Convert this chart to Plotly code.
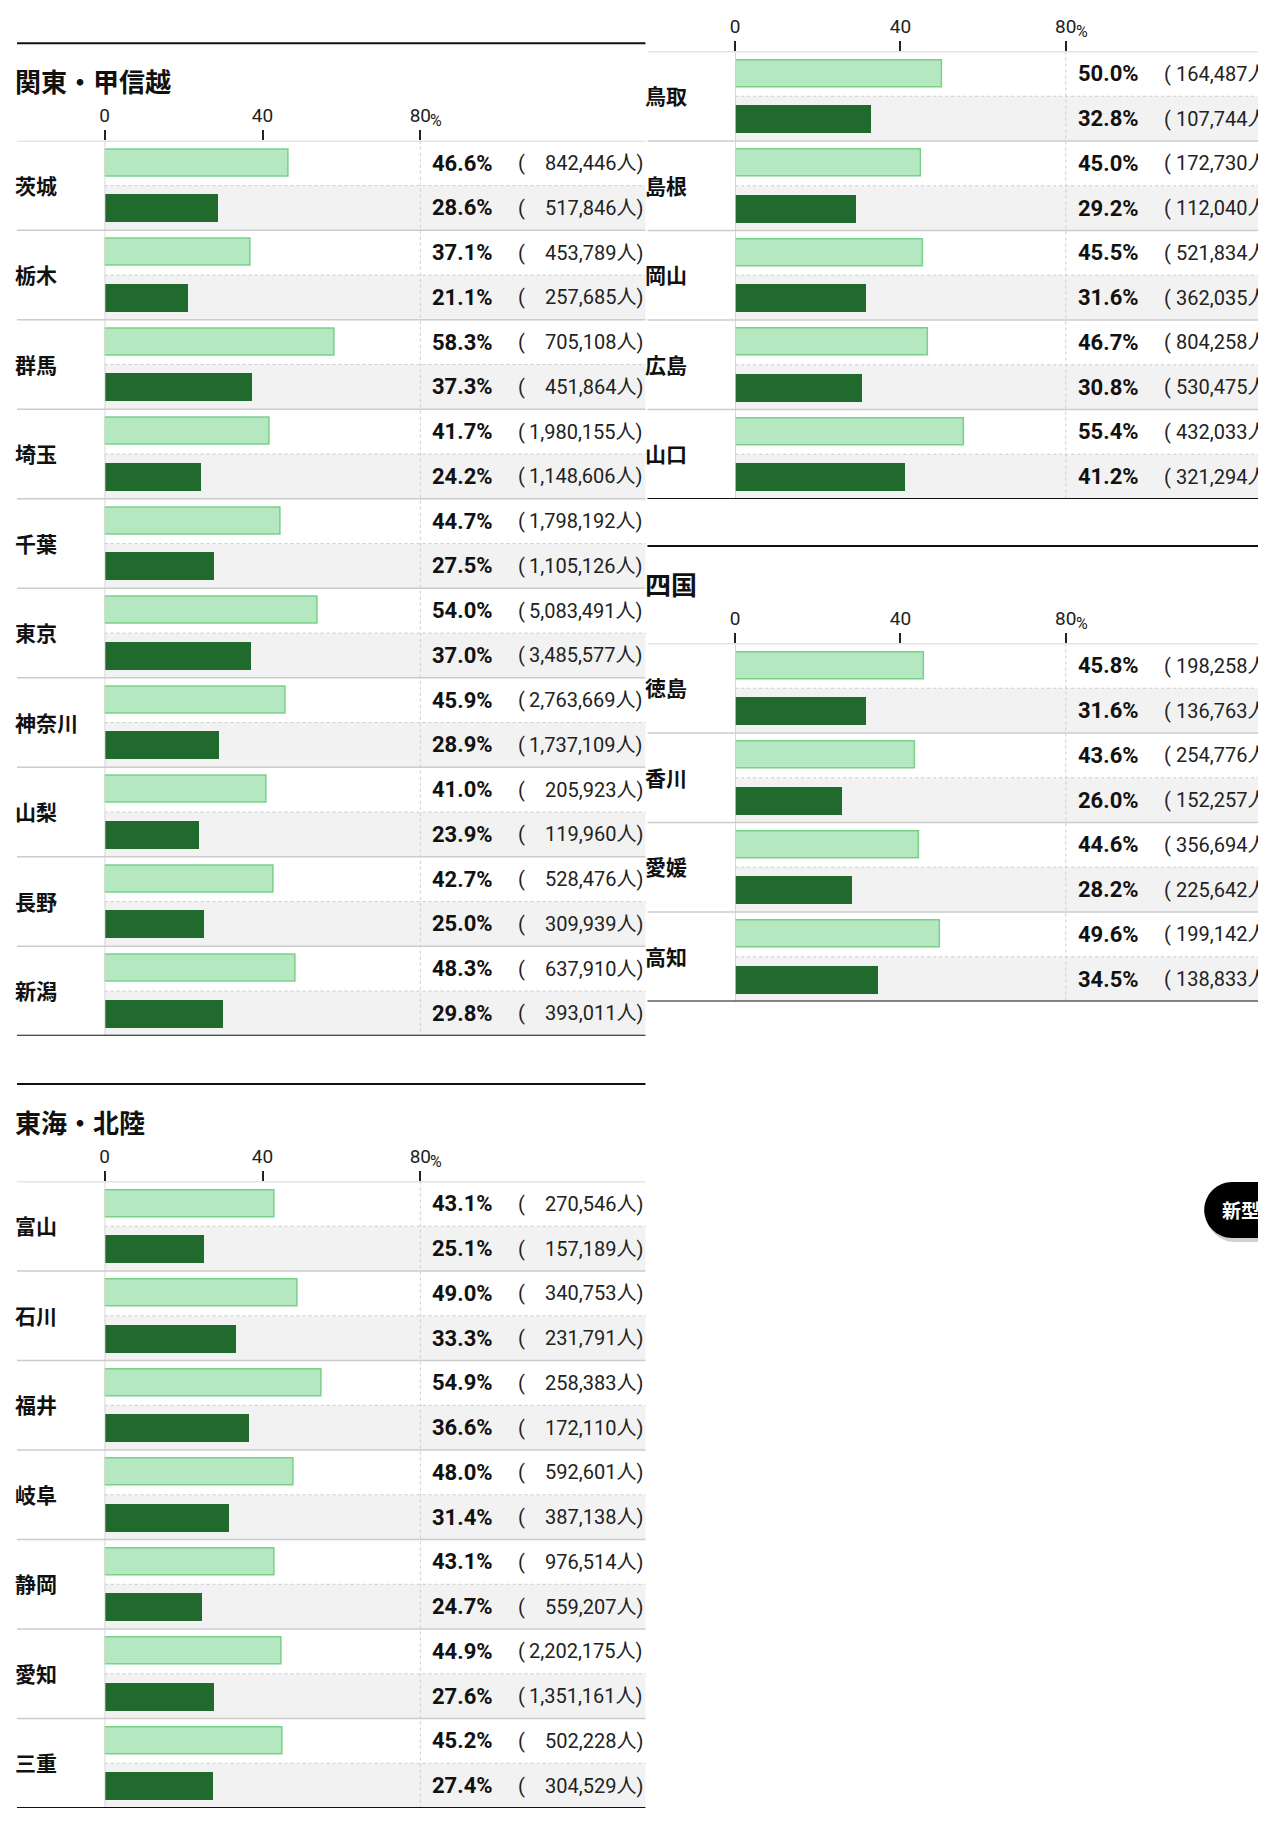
import plotly.graph_objects as go

# ---- data: vaccination rate (%) and people, 1st dose (light) / 2nd dose (dark)

KANTO_PREFS = ["茨城", "栃木", "群馬", "埼玉", "千葉", "東京", "神奈川", "山梨", "長野", "新潟"]
KANTO_RATE_1 = [46.6, 37.1, 58.3, 41.7, 44.7, 54.0, 45.9, 41.0, 42.7, 48.3]
KANTO_RATE_2 = [28.6, 21.1, 37.3, 24.2, 27.5, 37.0, 28.9, 23.9, 25.0, 29.8]
KANTO_NUM_1 = [842446, 453789, 705108, 1980155, 1798192, 5083491, 2763669, 205923, 528476, 637910]
KANTO_NUM_2 = [517846, 257685, 451864, 1148606, 1105126, 3485577, 1737109, 119960, 309939, 393011]

TOKAI_PREFS = ["富山", "石川", "福井", "岐阜", "静岡", "愛知", "三重"]
TOKAI_RATE_1 = [43.1, 49.0, 54.9, 48.0, 43.1, 44.9, 45.2]
TOKAI_RATE_2 = [25.1, 33.3, 36.6, 31.4, 24.7, 27.6, 27.4]
TOKAI_NUM_1 = [270546, 340753, 258383, 592601, 976514, 2202175, 502228]
TOKAI_NUM_2 = [157189, 231791, 172110, 387138, 559207, 1351161, 304529]

CHUGOKU_PREFS = ["鳥取", "島根", "岡山", "広島", "山口"]
CHUGOKU_RATE_1 = [50.0, 45.0, 45.5, 46.7, 55.4]
CHUGOKU_RATE_2 = [32.8, 29.2, 31.6, 30.8, 41.2]
CHUGOKU_NUM_1 = [164487, 172730, 521834, 804258, 432033]
CHUGOKU_NUM_2 = [107744, 112040, 362035, 530475, 321294]

SHIKOKU_PREFS = ["徳島", "香川", "愛媛", "高知"]
SHIKOKU_RATE_1 = [45.8, 43.6, 44.6, 49.6]
SHIKOKU_RATE_2 = [31.6, 26.0, 28.2, 34.5]
SHIKOKU_NUM_1 = [198258, 254776, 356694, 199142]
SHIKOKU_NUM_2 = [136763, 152257, 225642, 138833]

TICK_VALS = [0, 40, 80]
TICK_TEXT = ["0", "40", "80"]

# ---- page geometry, in window pixels (the html body has an 8px margin)
WIN_W, WIN_H = 1266, 1821
PAD = 8
FW, FH = WIN_W - 2 * PAD, WIN_H - 2 * PAD
ROW_H = 89.5

LIGHT = "#b5e8c0"
LIGHT_LINE = "#78d189"
DARK = "#216a2d"
BAND = "#f2f2f2"
GRID = "#cccccc"

JP = "Noto Sans CJK JP"
NUM = "Roboto, Noto Sans CJK JP, sans-serif"

# left column and right column
panels = [
    dict(title="関東・甲信越", prefs=KANTO_PREFS, r1=KANTO_RATE_1, r2=KANTO_RATE_2,
         n1=KANTO_NUM_1, n2=KANTO_NUM_2, left=12, right=643, zero=100, x80=417,
         rule=43.3, end=224),
    dict(title="東海・北陸", prefs=TOKAI_PREFS, r1=TOKAI_RATE_1, r2=TOKAI_RATE_2,
         n1=TOKAI_NUM_1, n2=TOKAI_NUM_2, left=12, right=643, zero=100, x80=417,
         rule=1084, end=224),
    dict(title="中国", prefs=CHUGOKU_PREFS, r1=CHUGOKU_RATE_1, r2=CHUGOKU_RATE_2,
         n1=CHUGOKU_NUM_1, n2=CHUGOKU_NUM_2, left=645, right=WIN_W - PAD, zero=733, x80=1065,
         rule=-46, end=209),
    dict(title="四国", prefs=SHIKOKU_PREFS, r1=SHIKOKU_RATE_1, r2=SHIKOKU_RATE_2,
         n1=SHIKOKU_NUM_1, n2=SHIKOKU_NUM_2, left=645, right=WIN_W - PAD, zero=733, x80=1065,
         rule=546, end=209),
]


def px(x):
    return (x - PAD) / FW


def py(y):
    return 1 - (y - PAD) / FH


def label(text, x, y, yref, size, color="#111", bold=False, anchor="left", family=NUM, **kw):
    return dict(text=text, xref="paper", yref=yref, x=x, y=y, xanchor=anchor, yanchor="middle",
                showarrow=False, borderpad=0, borderwidth=0,
                font=dict(family=family, size=size, color=color, weight="bold" if bold else "normal"),
                **kw)


fig = go.Figure()
shapes = []
annotations = []

for k, p in enumerate(panels, start=1):
    xa = "x" if k == 1 else f"x{k}"
    ya = "y" if k == 1 else f"y{k}"
    n = len(p["prefs"])
    top = p["rule"] + 97.5
    bottom = top + n * ROW_H
    xmax = 80 * (p["right"] - p["zero"]) / (p["x80"] - p["zero"])

    pos1 = [2 * i + 0.5 for i in range(n)]
    pos2 = [2 * i + 1.5 for i in range(n)]

    fig.add_trace(go.Bar(x=p["r1"], y=pos1, orientation="h", width=0.6,
                         marker=dict(color=LIGHT, line=dict(color=LIGHT_LINE, width=1.5)),
                         xaxis=xa, yaxis=ya, showlegend=False, hoverinfo="skip"))
    fig.add_trace(go.Bar(x=p["r2"], y=pos2, orientation="h", width=0.62,
                         marker=dict(color=DARK, line=dict(width=0)),
                         xaxis=xa, yaxis=ya, showlegend=False, hoverinfo="skip"))

    fig.update_layout({
        ("xaxis" if k == 1 else f"xaxis{k}"): dict(
            domain=[px(p["zero"]), min(px(p["right"]), 1)], range=[0, xmax], anchor=ya,
            side="top", showgrid=False, zeroline=False, showline=False,
            ticks="outside", ticklen=10, tickwidth=1.5, tickcolor="#222",
            tickvals=TICK_VALS, ticktext=TICK_TEXT,
            tickfont=dict(family=NUM, size=19, color="#222"), fixedrange=True),
        ("yaxis" if k == 1 else f"yaxis{k}"): dict(
            domain=[py(bottom), min(py(top), 1)], range=[2 * n, 0], anchor=xa,
            visible=False, fixedrange=True),
    })

    # section top rule and title
    shapes.append(dict(type="line", xref="paper", yref="paper", x0=px(p["left"]), x1=px(p["right"]),
                       y0=py(p["rule"]), y1=py(p["rule"]), line=dict(color="#111", width=2)))
    annotations.append(label(p["title"], px(p["left"] - 2), py(p["rule"] + 37.5), "paper", 26,
                             bold=True, family=JP))
    annotations.append(dict(text="%", xref=xa, yref="paper", x=80, y=py(p["rule"] + 77.5),
                            xanchor="left", yanchor="middle", xshift=10, showarrow=False,
                            borderpad=0, borderwidth=0,
                            font=dict(family=NUM, size=16, color="#222")))

    for i in range(n):
        # grey band on the lower half of each row
        shapes.append(dict(type="rect", xref=f"{xa} domain", yref=ya, x0=0, x1=1,
                           y0=2 * i + 1, y1=2 * i + 2, fillcolor=BAND, line=dict(width=0), layer="below"))
        shapes.append(dict(type="line", xref=f"{xa} domain", yref=ya, x0=0, x1=1,
                           y0=2 * i + 1, y1=2 * i + 1, layer="below",
                           line=dict(color=GRID, width=1, dash="3px,3px")))
        shapes.append(dict(type="line", xref="paper", yref=ya, x0=px(p["left"]), x1=px(p["right"]),
                           y0=2 * i, y1=2 * i, layer="below", line=dict(color=GRID, width=1.5)))

        annotations.append(label(p["prefs"][i], px(p["left"] - 2), 2 * i + 1, ya, 21,
                                 bold=True, family=JP, yshift=1))
        for yv, rate, num in ((pos1[i], p["r1"][i], p["n1"][i]), (pos2[i], p["r2"][i], p["n2"][i])):
            annotations.append(label(f"{rate:.1f}%", px(p["x80"] + 12), yv, ya, 22, bold=True))
            annotations.append(label("(", px(p["x80"] + 98.5), yv, ya, 20, color="#222"))
            annotations.append(label(f"{num:,}人)", px(p["x80"] + p["end"]), yv, ya, 20,
                                     color="#222", anchor="right"))

    # vertical lines at 0 and 80%
    shapes.append(dict(type="line", xref=xa, yref=ya, x0=0, x1=0, y0=0, y1=2 * n,
                       line=dict(color=GRID, width=1.5)))
    shapes.append(dict(type="line", xref=xa, yref=ya, x0=80, x1=80, y0=0, y1=2 * n, layer="below",
                       line=dict(color=GRID, width=1, dash="dot")))
    # bottom rule
    shapes.append(dict(type="line", xref="paper", yref=ya, x0=px(p["left"]), x1=px(p["right"]),
                       y0=2 * n, y1=2 * n, line=dict(color="#111", width=2)))


# floating button at the right edge (cut by the window)
def pill(x0, y0, y1, x1):
    r = (y1 - y0) / 2
    c = 0.55 * r
    pts = [
        f"M{px(x0 + r)},{py(y0)}",
        f"L{px(x1)},{py(y0)}",
        f"L{px(x1)},{py(y1)}",
        f"L{px(x0 + r)},{py(y1)}",
        f"C{px(x0 + r - c)},{py(y1)} {px(x0)},{py(y1 - r + c)} {px(x0)},{py(y1 - r)}",
        f"C{px(x0)},{py(y0 + r - c)} {px(x0 + r - c)},{py(y0)} {px(x0 + r)},{py(y0)}",
        "Z",
    ]
    return " ".join(pts)


shapes.append(dict(type="path", xref="paper", yref="paper", path=pill(1206, 1185, 1242, 1400),
                   fillcolor="rgba(0,0,0,0.18)", line=dict(width=0)))
shapes.append(dict(type="path", xref="paper", yref="paper", path=pill(1204, 1182, 1238, 1400),
                   fillcolor="#000", line=dict(width=0)))
annotations.append(label("新型コロナ", px(1222), py(1209), "paper", 19, color="#fff", bold=True,
                         family=JP))

fig.update_layout(
    width=FW, height=FH,
    margin=dict(l=0, r=0, t=0, b=0),
    paper_bgcolor="white", plot_bgcolor="rgba(0,0,0,0)",
    bargap=0, barmode="overlay",
    shapes=shapes, annotations=annotations,
    font=dict(family=NUM),
)

fig.write_html("out.html")
